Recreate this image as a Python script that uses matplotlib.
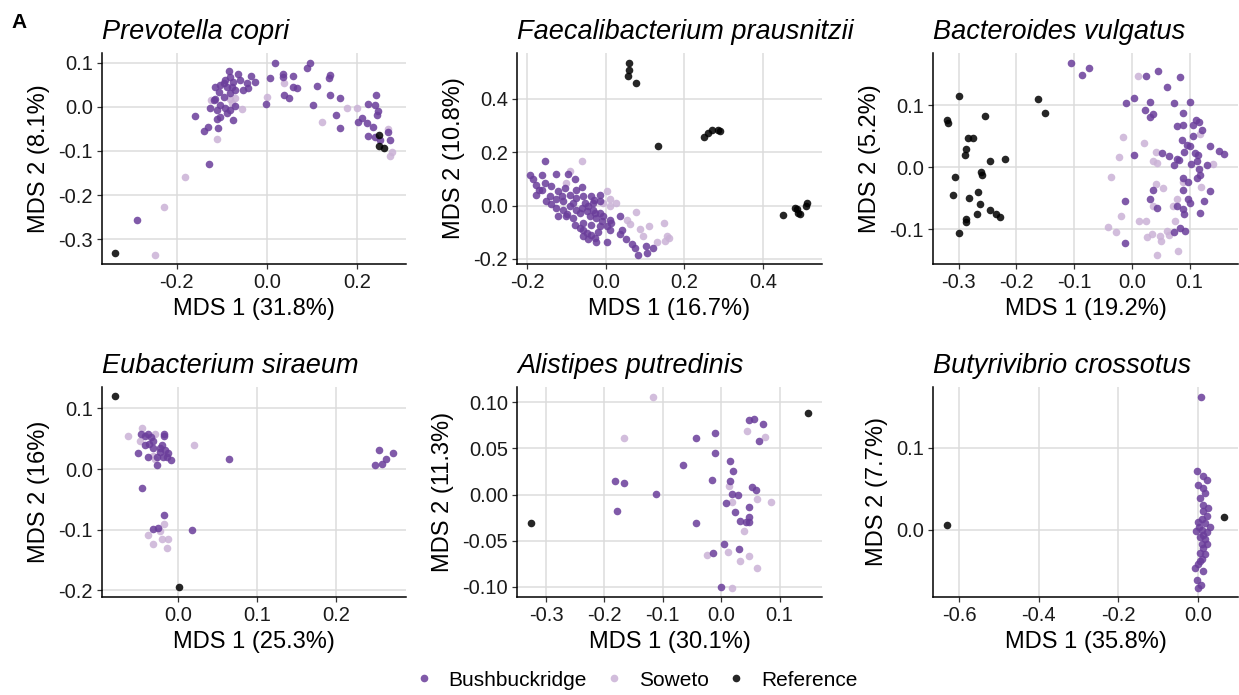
import matplotlib
matplotlib.use("Agg")
import matplotlib.pyplot as plt
from matplotlib.lines import Line2D
from matplotlib.ticker import FixedLocator, FormatStrFormatter

plt.rcParams['font.family'] = ['Liberation Sans', 'DejaVu Sans']
plt.rcParams['axes.unicode_minus'] = False

# ---- data (MDS 1, MDS 2) ----
titles = ["Prevotella copri", "Faecalibacterium prausnitzii", "Bacteroides vulgatus",
          "Eubacterium siraeum", "Alistipes putredinis", "Butyrivibrio crossotus"]
xlabels = ["MDS 1 (31.8%)", "MDS 1 (16.7%)", "MDS 1 (19.2%)",
           "MDS 1 (25.3%)", "MDS 1 (30.1%)", "MDS 1 (35.8%)"]
ylabels = ["MDS 2 (8.1%)", "MDS 2 (10.8%)", "MDS 2 (5.2%)",
           "MDS 2 (16%)", "MDS 2 (11.3%)", "MDS 2 (7.7%)"]
groups = ["Bushbuckridge", "Soweto", "Reference"]

prev_bush = [(-0.085, 0.081), (-0.063, 0.075), (-0.035, 0.070), (-0.026, 0.057), (-0.044, 0.053),
             (-0.041, 0.042), (-0.052, 0.038), (-0.059, 0.060), (-0.074, 0.057), (-0.081, 0.068),
             (-0.092, 0.060), (-0.096, 0.053), (-0.103, 0.049), (-0.114, 0.044), (-0.107, 0.034),
             (-0.089, 0.045), (-0.077, 0.045), (-0.070, 0.038), (-0.081, 0.030), (-0.096, 0.023),
             (-0.114, 0.017), (-0.118, 0.015), (-0.103, 0.004), (-0.092, -0.004), (-0.125, -0.004),
             (-0.111, -0.008), (-0.081, -0.008), (-0.070, 0.002), (-0.089, -0.015), (-0.074, -0.030),
             (-0.103, -0.023), (-0.111, -0.028), (-0.160, -0.020), (-0.131, -0.047), (-0.140, -0.054),
             (-0.109, -0.049), (-0.128, -0.130), (-0.289, -0.257),
             (0.017, 0.098), (0.007, 0.066), (0.035, 0.074), (0.035, 0.068), (0.059, 0.069),
             (0.096, 0.098), (0.089, 0.087), (0.139, 0.072), (0.137, 0.066), (0.112, 0.047),
             (0.058, 0.045), (0.066, 0.042), (0.037, 0.026), (0.048, 0.019), (0.103, 0.004),
             (-0.003, 0.005), (0.139, 0.026), (0.162, 0.020), (0.154, -0.019), (0.162, -0.049),
             (0.203, -0.034), (0.210, -0.026), (0.221, -0.038), (0.225, 0.005), (0.241, 0.026),
             (0.240, 0.004), (0.247, -0.009), (0.244, -0.019), (0.236, -0.045), (0.225, -0.066),
             (0.240, -0.068), (0.251, -0.075), (0.269, -0.057), (0.272, -0.075)]
prev_sow = [(0.037, 0.054), (0.000, 0.021), (-0.055, -0.005), (-0.081, 0.017), (-0.070, 0.019),
            (-0.124, 0.015), (-0.111, -0.072), (-0.182, -0.160), (-0.229, -0.228), (-0.249, -0.336),
            (0.122, -0.034), (0.177, -0.004), (0.199, -0.002), (0.269, -0.051), (0.277, -0.102),
            (0.272, -0.111), (-0.077, 0.008)]
prev_ref = [(-0.336, -0.331), (0.249, -0.063), (0.249, -0.088), (0.260, -0.094)]

faec_bush = [(-0.155, 0.169), (-0.193, 0.116), (-0.186, 0.098), (-0.162, 0.113), (-0.128, 0.119),
             (-0.096, 0.119), (-0.079, 0.098), (-0.177, 0.079), (-0.156, 0.085), (-0.139, 0.073),
             (-0.122, 0.054), (-0.177, 0.041), (-0.152, 0.016), (-0.126, 0.023), (-0.113, 0.035),
             (-0.092, 0.041), (-0.075, 0.029), (-0.058, 0.035), (-0.037, 0.035), (-0.015, 0.041),
             (-0.054, 0.010), (-0.032, 0.010), (-0.015, 0.016), (-0.126, -0.009), (-0.109, -0.015),
             (-0.092, -0.003), (-0.075, -0.015), (-0.122, -0.038), (-0.101, -0.040), (-0.084, -0.046),
             (-0.066, -0.028), (-0.049, -0.021), (-0.032, -0.015), (-0.015, -0.028), (-0.041, -0.040),
             (-0.024, -0.046), (-0.007, -0.040), (0.010, -0.053), (-0.058, -0.065), (-0.037, -0.071),
             (-0.015, -0.078), (0.002, -0.078), (0.014, -0.065), (0.036, -0.040), (-0.058, -0.090),
             (-0.058, -0.115), (-0.037, -0.109), (-0.028, -0.121), (-0.024, -0.138), (0.003, -0.136),
             (0.036, -0.106), (0.051, -0.125), (0.066, -0.144), (0.074, -0.159), (0.083, -0.184),
             (0.103, -0.153), (0.105, -0.178), (0.120, -0.159), (0.040, -0.090), (-0.084, 0.010),
             (-0.164, 0.060), (-0.143, 0.035), (-0.105, 0.066), (-0.075, 0.060), (-0.109, 0.016),
             (-0.062, -0.009), (-0.045, -0.003), (-0.028, -0.028), (-0.011, -0.059), (-0.079, -0.071),
             (-0.066, -0.084), (-0.049, -0.103), (0.010, -0.090), (-0.140, 0.005), (-0.100, -0.030),
             (-0.020, -0.100), (-0.045, -0.125), (-0.170, 0.060), (-0.060, 0.070), (-0.030, 0.020)]
faec_sow = [(-0.061, 0.169), (-0.092, 0.129), (-0.101, 0.085), (0.002, 0.054), (0.010, 0.023),
            (0.027, 0.010), (0.010, -0.003), (0.078, -0.024), (0.053, -0.053), (0.061, -0.068),
            (0.087, -0.088), (0.111, -0.075), (0.148, -0.066), (0.155, -0.115), (0.160, -0.121),
            (0.151, -0.134), (0.130, -0.138), (0.095, -0.115), (-0.007, 0.010)]
faec_ref = [(0.060, 0.535), (0.060, 0.510), (0.057, 0.485), (0.078, 0.459), (0.132, 0.225),
            (0.249, 0.259), (0.260, 0.273), (0.270, 0.285), (0.287, 0.283), (0.290, 0.280),
            (0.452, -0.036), (0.483, -0.009), (0.490, -0.028), (0.496, -0.031), (0.509, 0.000),
            (0.513, 0.010), (0.487, -0.013)]

bact_bush = [(-0.106, 0.168), (-0.086, 0.149), (-0.075, 0.160), (0.025, 0.147), (0.045, 0.156),
             (0.060, 0.130), (0.083, 0.146), (-0.010, 0.104), (0.003, 0.111), (0.032, 0.105),
             (0.023, 0.093), (0.036, 0.086), (0.032, 0.081), (0.073, 0.103), (0.101, 0.106),
             (0.089, 0.088), (0.079, 0.066), (0.089, 0.068), (0.105, 0.069), (0.111, 0.076),
             (0.117, 0.073), (0.121, 0.060), (0.106, 0.051), (0.086, 0.044), (0.095, 0.036),
             (0.100, 0.034), (0.135, 0.035), (0.151, 0.026), (0.160, 0.022), (0.004, 0.020),
             (0.053, 0.023), (0.065, 0.018), (0.078, 0.013), (0.082, 0.012), (0.073, 0.003),
             (0.090, 0.024), (0.110, 0.023), (0.115, 0.020), (0.102, 0.005), (0.113, 0.010),
             (0.130, 0.004), (0.117, -0.003), (0.118, -0.012), (0.113, -0.018), (0.089, -0.018),
             (0.098, -0.024), (0.036, -0.036), (0.089, -0.036), (0.136, -0.039), (0.031, -0.051),
             (0.043, -0.066), (-0.012, -0.055), (0.098, -0.051), (0.101, -0.058), (0.125, -0.055),
             (0.079, -0.063), (0.089, -0.068), (0.091, -0.076), (0.118, -0.074), (0.083, -0.098),
             (0.073, -0.105), (0.092, -0.102), (-0.012, -0.122)]
bact_sow = [(0.010, 0.147), (-0.015, 0.049), (0.021, 0.039), (-0.022, 0.016), (0.042, 0.025),
            (0.037, 0.010), (0.043, 0.007), (0.140, 0.006), (-0.037, -0.016), (0.042, -0.027),
            (0.054, -0.033), (0.089, -0.024), (0.119, -0.031), (0.036, -0.063), (0.071, -0.063),
            (0.079, -0.051), (-0.018, -0.078), (0.013, -0.086), (0.024, -0.086), (0.075, -0.086),
            (-0.041, -0.096), (-0.028, -0.105), (0.027, -0.112), (0.035, -0.108), (0.048, -0.111),
            (0.051, -0.119), (0.060, -0.102), (0.065, -0.109), (0.043, -0.141), (0.080, -0.135),
            (0.118, 0.053)]
bact_ref = [(-0.299, 0.115), (-0.321, 0.076), (-0.319, 0.072), (-0.254, 0.083), (-0.284, 0.047),
            (-0.276, 0.047), (-0.288, 0.030), (-0.289, 0.020), (-0.246, 0.010), (-0.219, 0.014),
            (-0.261, -0.008), (-0.260, -0.013), (-0.306, -0.015), (-0.310, -0.044), (-0.283, -0.049),
            (-0.267, -0.040), (-0.263, -0.060), (-0.246, -0.069), (-0.268, -0.075), (-0.235, -0.076),
            (-0.229, -0.080), (-0.287, -0.083), (-0.287, -0.088), (-0.299, -0.106), (-0.162, 0.110),
            (-0.150, 0.087)]

eub_bush = [(-0.047, 0.057), (-0.042, 0.054), (-0.038, 0.058), (-0.034, 0.052), (-0.032, 0.047),
            (-0.037, 0.042), (-0.041, 0.039), (-0.051, 0.027), (-0.038, 0.020), (-0.027, 0.020),
            (-0.026, 0.006), (-0.022, 0.034), (-0.023, 0.028), (-0.018, 0.054), (-0.017, 0.058),
            (-0.020, 0.039), (-0.016, 0.031), (-0.012, 0.026), (-0.014, 0.020), (-0.009, 0.015),
            (-0.019, 0.020), (-0.031, 0.034), (0.065, 0.017), (0.254, 0.031), (0.271, 0.027),
            (0.262, 0.016), (0.257, 0.008), (0.249, 0.007), (-0.045, -0.031), (-0.018, -0.076),
            (-0.032, -0.099), (-0.025, -0.098), (0.018, -0.101)]
eub_sow = [(-0.063, 0.054), (-0.045, 0.068), (-0.048, 0.047), (-0.029, 0.057), (-0.031, 0.021),
           (-0.029, 0.017), (0.020, 0.040), (-0.017, -0.091), (-0.022, -0.103), (-0.038, -0.109),
           (-0.032, -0.124), (-0.020, -0.116), (-0.013, -0.116), (-0.014, -0.130)]
eub_ref = [(-0.079, 0.120), (0.001, -0.195)]

alis_bush = [(0.048, 0.081), (0.056, 0.082), (0.071, 0.076), (0.065, 0.058), (-0.010, 0.067),
             (-0.044, 0.061), (-0.010, 0.045), (0.015, 0.036), (-0.065, 0.032), (0.021, 0.025),
             (-0.015, 0.016), (0.015, 0.015), (-0.182, 0.015), (-0.167, 0.012), (-0.111, 0.001),
             (0.018, 0.001), (0.029, 0.000), (0.052, 0.008), (0.059, 0.005), (0.009, -0.009),
             (0.047, -0.013), (0.023, -0.019), (-0.179, -0.018), (-0.043, -0.031), (0.032, -0.029),
             (0.043, -0.030), (0.047, -0.030), (0.047, -0.024), (0.004, -0.054), (-0.014, -0.063),
             (0.031, -0.059), (0.000, -0.100)]
alis_sow = [(-0.117, 0.106), (-0.167, 0.061), (0.045, 0.069), (0.075, 0.062), (0.014, 0.009),
            (0.018, -0.008), (0.062, -0.005), (0.085, -0.008), (0.039, -0.039), (-0.025, -0.066),
            (0.012, -0.062), (0.032, -0.072), (0.047, -0.067), (0.061, -0.080), (0.019, -0.101)]
alis_ref = [(-0.326, -0.031), (0.148, 0.088)]

buty_bush = [(0.007, 0.162), (-0.002, 0.072), (0.012, 0.065), (0.022, 0.060), (0.001, 0.055),
             (0.013, 0.051), (0.018, 0.045), (0.005, 0.039), (0.012, 0.030), (0.024, 0.026),
             (0.022, 0.017), (0.009, 0.013), (0.001, 0.009), (0.018, 0.008), (0.030, 0.003),
             (-0.005, -0.002), (0.009, -0.001), (0.022, -0.003), (0.005, -0.009), (0.018, -0.011),
             (0.009, -0.017), (0.013, -0.023), (0.005, -0.028), (0.018, -0.030), (0.009, -0.036),
             (0.001, -0.042), (-0.008, -0.047), (0.012, -0.051), (-0.003, -0.061), (0.008, -0.067),
             (0.001, -0.071), (0.013, 0.023), (0.003, 0.003), (0.013, -0.006), (0.022, -0.017),
             (0.005, -0.038)]
buty_sow = []
buty_ref = [(-0.632, 0.006), (0.065, 0.015)]

panel_points = [
    (prev_bush, prev_sow, prev_ref),
    (faec_bush, faec_sow, faec_ref),
    (bact_bush, bact_sow, bact_ref),
    (eub_bush, eub_sow, eub_ref),
    (alis_bush, alis_sow, alis_ref),
    (buty_bush, buty_sow, buty_ref),
]

xticks = [[-0.2, 0.0, 0.2], [-0.2, 0.0, 0.2, 0.4], [-0.3, -0.2, -0.1, 0.0, 0.1],
          [0.0, 0.1, 0.2], [-0.3, -0.2, -0.1, 0.0, 0.1], [-0.6, -0.4, -0.2, 0.0]]
yticks = [[-0.3, -0.2, -0.1, 0.0, 0.1], [-0.2, 0.0, 0.2, 0.4], [-0.1, 0.0, 0.1],
          [-0.2, -0.1, 0.0, 0.1], [-0.10, -0.05, 0.00, 0.05, 0.10], [0.0, 0.1]]
yfmt = ["%.1f", "%.1f", "%.1f", "%.1f", "%.2f", "%.1f"]
xlims = [(-0.3655, 0.3085), (-0.2267, 0.551), (-0.3445, 0.1838),
         (-0.0958, 0.2878), (-0.3497, 0.1726), (-0.6663, 0.1007)]
ylims = [(-0.356, 0.1215), (-0.219, 0.5725), (-0.156, 0.1844),
         (-0.211, 0.1352), (-0.111, 0.1165), (-0.0822, 0.174)]

colors = {"Bushbuckridge": "#6A3D9A", "Soweto": "#CAB2D6", "Reference": "#000000"}
draw_order = ["Soweto", "Bushbuckridge", "Reference"]

W, H = 1239, 695
fig = plt.figure(figsize=(W / 100, H / 100), dpi=100)

# axes boxes in pixels: left, top, right, bottom
boxes = [(102, 53, 406, 264), (517, 53, 822, 264), (933, 53, 1238, 264),
         (102, 387, 406, 597), (517, 387, 822, 597), (933, 387, 1238, 597)]

for i, (l, t, r, b) in enumerate(boxes):
    ax = fig.add_axes([l / W, 1 - b / H, (r - l) / W, (b - t) / H])
    pts = dict(zip(groups, panel_points[i]))
    for g in draw_order:
        if len(pts[g]) == 0:
            continue
        xs = [p[0] for p in pts[g]]
        ys = [p[1] for p in pts[g]]
        ax.scatter(xs, ys, s=30, color=colors[g], alpha=0.85, linewidths=0, zorder=3)
    ax.set_xlim(xlims[i])
    ax.set_ylim(ylims[i])
    ax.xaxis.set_major_locator(FixedLocator(xticks[i]))
    ax.yaxis.set_major_locator(FixedLocator(yticks[i]))
    ax.xaxis.set_major_formatter(FormatStrFormatter("%.1f"))
    ax.yaxis.set_major_formatter(FormatStrFormatter(yfmt[i]))
    ax.grid(True, color="#dcdcdc", lw=1.1, zorder=0)
    ax.set_axisbelow(True)
    for s in ["top", "right"]:
        ax.spines[s].set_visible(False)
    for s in ["left", "bottom"]:
        ax.spines[s].set_linewidth(1.1)
        ax.spines[s].set_color("black")
    ax.tick_params(length=3.5, width=0.9, color="#333333", labelsize=14.5,
                   labelcolor="#1a1a1a", pad=3)
    ax.set_xlabel(xlabels[i], fontsize=17, labelpad=4)
    ax.set_ylabel(ylabels[i], fontsize=17, labelpad=6)
    ax.set_title(titles[i], fontsize=19.5, style="italic", loc="left", pad=10)

fig.text(11 / W, 1 - 22 / H, "A", fontsize=15, fontweight="bold", va="center", ha="left")

handles = [Line2D([], [], marker="o", ls="", color=colors[g], alpha=0.85,
                  markersize=5.5, markeredgewidth=0) for g in groups]
fig.legend(handles, groups, loc="center", bbox_to_anchor=(0.512, 1 - 680 / H),
           ncol=3, frameon=False, fontsize=15, handletextpad=0.6, columnspacing=0.7,
           handlelength=1.2, borderpad=0.2)

fig.savefig("out.png", dpi=100)
